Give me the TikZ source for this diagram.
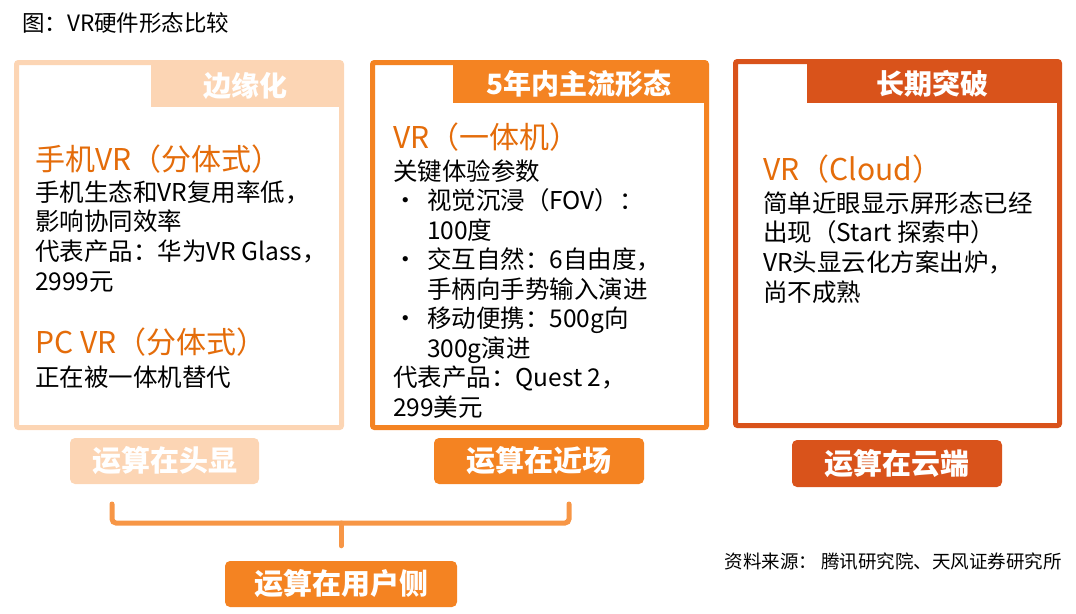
\documentclass[tikz,border=0pt]{standalone}
\usepackage{fontspec}
\setmainfont{Noto Sans CJK SC}
\usetikzlibrary{positioning}
\definecolor{peach}{HTML}{FCD5B4}
\definecolor{midorange}{HTML}{F48322}
\definecolor{deeporange}{HTML}{D9531B}
\definecolor{headorange}{HTML}{E46C0A}
\definecolor{braceorange}{HTML}{F79646}

\begin{document}
\begin{tikzpicture}[x=1pt, y=-1pt,
			frame/.style={draw, line width=5pt, fill=white, rounded corners=2pt, inner sep=0pt},
			tab/.style={inner sep=0pt, text=white, font=\fontsize{28}{30}\selectfont\bfseries},
			heading/.style={anchor=base west, inner sep=0pt, text=headorange, font=\fontsize{30}{32}\selectfont},
			body/.style={anchor=base west, inner sep=0pt, align=left, font=\fontsize{24.5}{29.8}\selectfont},
			button/.style={rounded corners=5pt, inner sep=0pt, minimum height=46pt, text=white, font=\fontsize{29}{30}\selectfont\bfseries},
			brace/.style={draw=braceorange, line width=5pt, rounded corners=4pt, line cap=round}
		]
		\useasboundingbox (0,0) rectangle (1076,613);

		% Title
		\node[anchor=base west, inner sep=0pt, font=\fontsize{22.5}{24}\selectfont] (title) at (22,31) {图：VR硬件形态比较};

		% Frames
		\node[frame, draw=peach, minimum width=325pt, minimum height=365pt] (edge) at (179,245) {};
		\node[frame, draw=midorange, minimum width=334pt, minimum height=365pt] (main) at (539.5,245) {};
		\node[frame, draw=deeporange, minimum width=324pt, minimum height=364pt] (cloud) at (897.5,243.5) {};

		% Tabs
		\node[tab, fill=peach, minimum width=188pt, minimum height=42pt] (edgetab) at (245,86) {边缘化};
		\node[tab, fill=midorange, minimum width=252pt, minimum height=38pt] (maintab) at (579,84) {5年内主流形态};
		\node[tab, fill=deeporange, minimum width=251pt, minimum height=39pt] (cloudtab) at (932.5,83.5) {长期突破};

		% Edge (body nodes sit on the baseline of their last line)
		\node[heading] (phone) at (35,170) {手机VR（分体式）};
		\node[body] (phonetext) at (35,290.4) {手机生态和VR复用率低，\\影响协同效率\\代表产品：华为VR Glass，\\2999元};
		\node[heading] (pc) at (35,353) {PC VR（分体式）};
		\node[body] (pctext) at (35,386) {正在被一体机替代};

		% Main
		\node[heading] (allinone) at (393,148) {VR（一体机）};
		\node[body, font=\fontsize{24.5}{29.5}\selectfont] (maintext) at (393,416) {关键体验参数\\
			\makebox[34pt][l]{•}视觉沉浸（FOV）：\\
			\hspace*{34pt}100度\\
			\makebox[34pt][l]{•}交互自然：6自由度，\\
			\hspace*{34pt}手柄向手势输入演进\\
			\makebox[34pt][l]{•}移动便携：500g向\\
			\hspace*{34pt}300g演进\\
			代表产品：Quest 2，\\299美元};

		% Cloud
		\node[heading] (vrcloud) at (763,180) {VR（Cloud）};
		\node[body] (cloudtext) at (763,301.4) {简单近眼显示屏形态已经\\出现（Start 探索中）\\VR头显云化方案出炉，\\尚不成熟};

		% Buttons
		\node[button, fill=peach, minimum width=189pt] (onhead) at (164.5,461) {运算在头显};
		\node[button, fill=midorange, minimum width=210pt] (nearby) at (539,461) {运算在近场};
		\node[button, fill=deeporange, minimum width=210pt, minimum height=47pt] (oncloud) at (897,463.5) {运算在云端};
		\node[button, fill=midorange, minimum width=232pt] (user) at (341,584) {运算在用户侧};

		% Brace
		\coordinate (braceleft) at (112,504);
		\coordinate (braceright) at (569,504);
		\coordinate (bracemid) at (341,523);
		\draw[brace] (braceleft) |- (bracemid) -| (braceright);
		\draw[brace] (bracemid) -- ([yshift=15pt]user.north);

		% Source
		\node[anchor=base east, inner sep=0pt, font=\fontsize{18.5}{20}\selectfont] (source) at (1062,568) {资料来源： 腾讯研究院、天风证券研究所};
	\end{tikzpicture}
\end{document}
